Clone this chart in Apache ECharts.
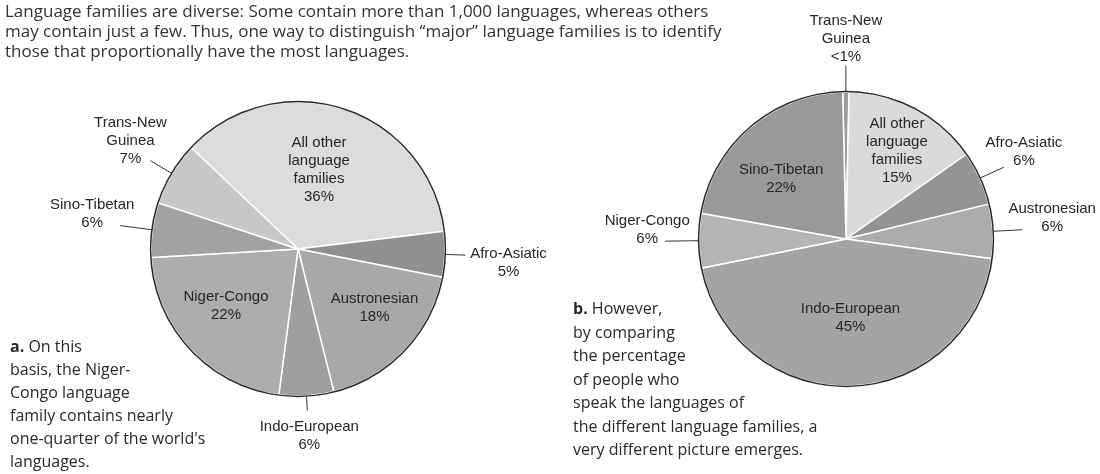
<!DOCTYPE html>
<html>
<head>
<meta charset="utf-8">
<script src="https://cdn.jsdelivr.net/npm/echarts@6/dist/echarts.min.js"></script>
<style>html,body{margin:0;padding:0;background:#fff}#c{width:1100px;height:474px}</style>
</head>
<body>
<div id="c"></div>
<script>
// ---- data ----
const leftCategories = ['All other\nlanguage\nfamilies', 'Afro-Asiatic', 'Austronesian', 'Indo-European', 'Niger-Congo', 'Sino-Tibetan', 'Trans-New\nGuinea'];
const leftValues = [36, 5, 18, 6, 22, 6, 7];
const leftPercentLabels = ['36%', '5%', '18%', '6%', '22%', '6%', '7%'];

const rightCategories = ['Trans-New\nGuinea', 'All other\nlanguage\nfamilies', 'Afro-Asiatic', 'Austronesian', 'Indo-European', 'Niger-Congo', 'Sino-Tibetan'];
const rightValues = [0.7, 15, 6, 6, 45, 6, 22];
const rightPercentLabels = ['<1%', '15%', '6%', '6%', '45%', '6%', '22%'];

const headingLines = [
  'Language families are diverse: Some contain more than 1,000 languages, whereas others',
  'may contain just a few. Thus, one way to distinguish \u201cmajor\u201d language families is to identify',
  'those that proportionally have the most languages.'
];
const captionALines = ['On this', 'basis, the Niger-', 'Congo language', 'family contains nearly', "one-quarter of the world's", 'languages.'];
const captionBLines = ['However,', 'by comparing', 'the percentage', 'of people who', 'speak the languages of', 'the different language families, a', 'very different picture emerges.'];

// ---- styling / layout ----
const leftColors = ['#dcdcdc', '#909090', '#a8a8a8', '#9f9f9f', '#adadad', '#a2a2a2', '#c7c7c7'];
const rightColors = ['#9e9e9e', '#dadada', '#949494', '#acacac', '#a4a4a4', '#b4b4b4', '#999999'];

const LEFT = {
  cx: 298, cy: 249, r: 147, start: 136.5,
  inside: {0: [-3, -7], 2: [21, 6], 4: [-16, 5]},
  outside: {
    1: {k1: 0.9, k2: 1.14, dx: 43, dy: 8},
    3: {k1: 0.9, k2: 1.1, dx: 2, dy: 25},
    5: {k1: 0.85, k2: 1.22, dx: -28, dy: -12},
    6: {k1: 0.9, k2: 1.17, dx: -20, dy: -20}
  }
};
const RIGHT = {
  cx: 846, cy: 239, r: 147, start: 91.3,
  inside: {1: [15, -21], 4: [2, 2], 6: [-15, -2]},
  outside: {
    0: {k1: 0.96, k2: 1.18, dx: 0, dy: -27},
    2: {k1: 0.91, k2: 1.18, dx: 20, dy: -15},
    3: {k1: 0.93, k2: 1.2, dx: 30, dy: -12},
    5: {k1: 0.9, k2: 1.23, dx: -18, dy: -11}
  }
};

function makeLabelLayout(cfg) {
  return function (p) {
    const ins = cfg.inside[p.dataIndex];
    if (ins) return {dx: ins[0], dy: ins[1]};
    const o = cfg.outside[p.dataIndex];
    if (!o || !p.labelLinePoints) return {};
    const p0 = p.labelLinePoints[0];
    let ux = p0[0] - cfg.cx, uy = p0[1] - cfg.cy;
    const len = Math.hypot(ux, uy) || 1;
    ux /= len; uy /= len;
    const a = [cfg.cx + ux * cfg.r * o.k1, cfg.cy + uy * cfg.r * o.k1];
    const b = [cfg.cx + ux * cfg.r * o.k2, cfg.cy + uy * cfg.r * o.k2];
    const m = [(a[0] + b[0]) / 2, (a[1] + b[1]) / 2];
    return {x: b[0] + o.dx, y: b[1] + o.dy, align: 'center', verticalAlign: 'middle', labelLinePoints: [a, m, b]};
  };
}

function buildData(cats, vals, colors, cfg) {
  return cats.map(function (c, i) {
    const inside = !!cfg.inside[i];
    return {
      name: c, value: vals[i],
      itemStyle: {color: colors[i]},
      label: {position: inside ? 'inside' : 'outside'},
      labelLine: {show: !inside}
    };
  });
}

const labelFont = {fontFamily: 'Liberation Sans', fontSize: 15, lineHeight: 18, color: '#262626', align: 'center'};

function pieSeries(cats, vals, pcts, colors, cfg) {
  return {
    type: 'pie', center: [cfg.cx, cfg.cy], radius: cfg.r, startAngle: cfg.start, clockwise: true,
    avoidLabelOverlap: false, silent: true, animation: false,
    itemStyle: {borderColor: '#ffffff', borderWidth: 1.5},
    label: Object.assign({show: true, formatter: function (p) { return cats[p.dataIndex] + '\n' + pcts[p.dataIndex]; }}, labelFont),
    labelLine: {show: true, length: 10, length2: 10, lineStyle: {color: '#333', width: 1}},
    labelLayout: makeLabelLayout(cfg),
    data: buildData(cats, vals, colors, cfg)
  };
}
function ringSeries(cfg) {
  return {
    type: 'pie', center: [cfg.cx, cfg.cy], radius: [cfg.r - 0.3, cfg.r + 1.2], silent: true, animation: false,
    label: {show: false}, labelLine: {show: false}, itemStyle: {color: '#2a2a2a'},
    data: [{value: 1, name: 'outline'}]
  };
}

const captionFont = {fontFamily: 'Open Sans', fontSize: 16, fill: '#2a2a2a'};

const chart = echarts.init(document.getElementById('c'), null, {renderer: 'canvas'});
chart.setOption({
  backgroundColor: '#ffffff',
  animation: false,
  series: [
    pieSeries(leftCategories, leftValues, leftPercentLabels, leftColors, LEFT),
    ringSeries(LEFT),
    pieSeries(rightCategories, rightValues, rightPercentLabels, rightColors, RIGHT),
    ringSeries(RIGHT)
  ],
  graphic: [
    {type: 'text', left: 5, top: 2, silent: true,
      style: {text: headingLines.join('\n'), lineHeight: 20, fontFamily: 'Open Sans', fontSize: 17, fill: '#333333'}},
    {type: 'text', left: 10, top: 336, silent: true,
      style: Object.assign({text: '{b|a.} ' + captionALines.join('\n'), lineHeight: 23,
        rich: {b: {fontFamily: 'Open Sans', fontSize: 16, fontWeight: 'bold', lineHeight: 23, fill: '#2a2a2a'}}}, captionFont)},
    {type: 'text', left: 573, top: 298, silent: true,
      style: Object.assign({text: '{b|b.} ' + captionBLines.join('\n'), lineHeight: 23.5,
        rich: {b: {fontFamily: 'Open Sans', fontSize: 16, fontWeight: 'bold', lineHeight: 23.5, fill: '#2a2a2a'}}}, captionFont)}
  ]
});
</script>
</body>
</html>
